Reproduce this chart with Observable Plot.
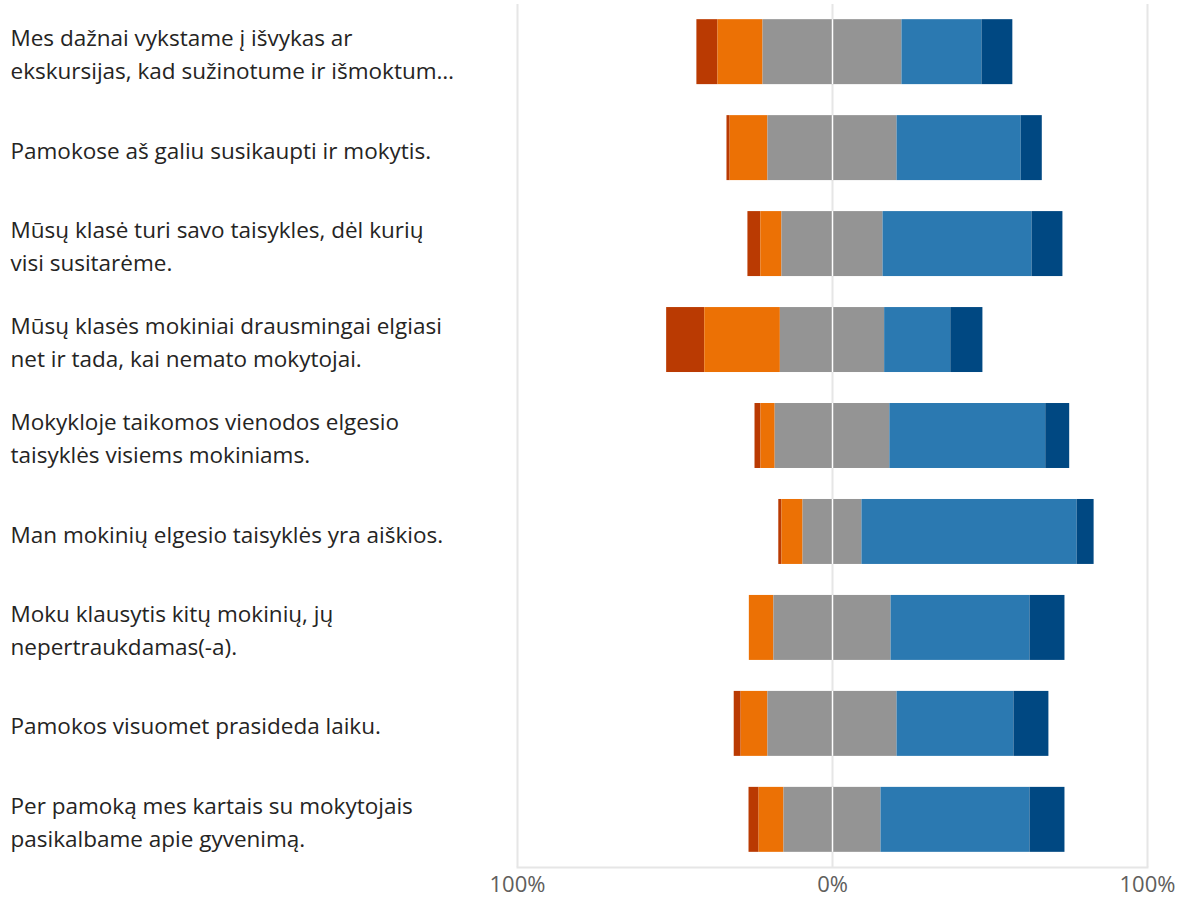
<!DOCTYPE html>
<html>
<head>
<meta charset="utf-8">
<script src="https://cdn.jsdelivr.net/npm/d3@7"></script>
<script src="https://cdn.jsdelivr.net/npm/@observablehq/plot@0.6"></script>
<style>
  body { margin: 0; background: #fff; }
  #chart svg { display: block; }
</style>
</head>
<body>
<div id="chart"></div>
<script>
const categories = [
  "Mes dažnai vykstame į išvykas ar\nekskursijas, kad sužinotume ir išmoktum…",
  "Pamokose aš galiu susikaupti ir mokytis.",
  "Mūsų klasė turi savo taisykles, dėl kurių\nvisi susitarėme.",
  "Mūsų klasės mokiniai drausmingai elgiasi\nnet ir tada, kai nemato mokytojai.",
  "Mokykloje taikomos vienodos elgesio\ntaisyklės visiems mokiniams.",
  "Man mokinių elgesio taisyklės yra aiškios.",
  "Moku klausytis kitų mokinių, jų\nnepertraukdamas(-a).",
  "Pamokos visuomet prasideda laiku.",
  "Per pamoką mes kartais su mokytojais\npasikalbame apie gyvenimą."
];
const levels = ["Visiškai nesutinku", "Nesutinku", "Nei sutinku, nei nesutinku", "Sutinku", "Visiškai sutinku"];
const stronglyDisagree = [6.7, 1.0, 4.1, 12.1, 1.9, 1.0, 0.0, 2.2, 3.2];
const disagree         = [14.3, 12.0, 6.7, 24.0, 4.5, 6.7, 7.8, 8.5, 7.9];
const neutral          = [44.1, 41.0, 32.1, 33.1, 36.4, 18.7, 37.2, 41.0, 30.8];
const agree            = [25.4, 39.4, 47.3, 21.0, 49.5, 68.3, 44.1, 37.1, 47.3];
const stronglyAgree    = [9.8, 6.7, 9.8, 10.2, 7.6, 5.4, 11.1, 11.1, 11.1];
const colors = ["#BA3A02", "#EC7105", "#949494", "#2B79B1", "#004882"];
const xTicks = [-100, 0, 100];

// Build diverging segments (neutral centred on 0)
const series = [stronglyDisagree, disagree, neutral, agree, stronglyAgree];
const segments = [];
categories.forEach((cat, i) => {
  let start = -(stronglyDisagree[i] + disagree[i] + neutral[i] / 2);
  series.forEach((s, k) => {
    const v = s[i];
    segments.push({category: cat, level: levels[k], x1: start, x2: start + v});
    start += v;
  });
});
const centre = categories.map(c => ({category: c, x: 0}));

const font = "'Open Sans', 'Noto Sans', sans-serif";

const chart = Plot.plot({
  width: 1179,
  height: 897,
  marginLeft: 517,
  marginRight: 32,
  marginTop: 4,
  marginBottom: 30,
  style: {fontFamily: font, background: "#fff"},
  x: {domain: [-100, 100], axis: null},
  y: {domain: categories, paddingInner: 0.323, paddingOuter: 0.158, round: false, axis: null},
  color: {domain: levels, range: colors},
  marks: [
    Plot.ruleX(xTicks, {stroke: "#e6e6e6", strokeWidth: 2}),
    Plot.frame({anchor: "bottom", stroke: "#e6e6e6", strokeWidth: 2}),
    Plot.rectX(segments, {y: "category", x1: "x1", x2: "x2", fill: "level"}),
    Plot.tickX(centre, {x: "x", y: "category", stroke: "#ffffff", strokeWidth: 1.5}),
    Plot.text(categories, {
      x: -100, y: d => d, text: d => d,
      textAnchor: "start", dx: -507,
      fontSize: 22.5, lineHeight: 1.47, fill: "#252423", fontFamily: font
    }),
    Plot.axisX(xTicks, {
      tickSize: 0, tickPadding: 9, fontSize: 22, fill: "#605E5C",
      tickFormat: d => Math.abs(d) + "%", fontFamily: font
    })
  ]
});
document.getElementById("chart").appendChild(chart);
</script>
</body>
</html>
